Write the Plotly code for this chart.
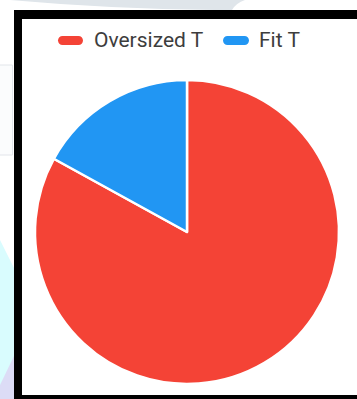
import plotly.graph_objects as go

# Share of T-shirt styles
labels = ["Oversized T", "Fit T"]
values = [83, 17]
colors = ["#F44336", "#2196F3"]

W, H = 357, 399


def X(px):
    return px / W


def Y(py):
    return 1 - py / H


def paper_path(cmds):
    """Build an SVG path in paper coordinates from pixel-space commands."""
    out = []
    for cmd, pts in cmds:
        coords = " ".join(f"{X(x):.5f},{Y(y):.5f}" for x, y in pts)
        out.append(f"{cmd}{coords}")
    return " ".join(out) + " Z"


def pill(x0, x1, yc, h):
    r = h / 2
    k = 0.5523 * r
    return paper_path([
        ("M", [(x0 + r, yc - r)]),
        ("L", [(x1 - r, yc - r)]),
        ("C", [(x1 - r + k, yc - r), (x1, yc - k), (x1, yc)]),
        ("C", [(x1, yc + k), (x1 - r + k, yc + r), (x1 - r, yc + r)]),
        ("L", [(x0 + r, yc + r)]),
        ("C", [(x0 + r - k, yc + r), (x0, yc + k), (x0, yc)]),
        ("C", [(x0, yc - k), (x0 + r - k, yc - r), (x0 + r, yc - r)]),
    ])


fig = go.Figure(
    go.Pie(
        labels=labels,
        values=values,
        marker=dict(colors=colors, line=dict(color="white", width=2.5)),
        sort=False,
        direction="clockwise",
        rotation=0,
        textinfo="none",
        showlegend=False,
        domain=dict(x=[X(35), X(339)], y=[Y(384), Y(80)]),
    )
)

shapes = []
# page backdrop around the card
shapes.append(dict(type="path", xref="paper", yref="paper", layer="below",
                   path=paper_path([("M", [(10, 0)]), ("Q", [(110, 9), (215, 10)]),
                                    ("L", [(232, 10)]), ("Q", [(236, 3), (245, 0)])]),
                   fillcolor="#dfe5ea", line=dict(width=0)))
shapes.append(dict(type="path", xref="paper", yref="paper", layer="below",
                   path=paper_path([("M", [(0, 240)]), ("L", [(14, 268)]),
                                    ("L", [(14, 399)]), ("L", [(0, 399)])]),
                   fillcolor="#d9fcfe", line=dict(width=0)))
shapes.append(dict(type="path", xref="paper", yref="paper", layer="below",
                   path=paper_path([("M", [(0, 385)]), ("L", [(14, 356)]),
                                    ("L", [(14, 399)]), ("L", [(0, 399)])]),
                   fillcolor="#dcdcf6", line=dict(width=0)))
shapes.append(dict(type="rect", xref="paper", yref="paper", layer="below",
                   x0=X(-6), x1=X(12.5), y0=Y(155), y1=Y(65),
                   fillcolor="#fbfcfd", line=dict(color="#e2e5ea", width=1)))

# black frame of the card
for x0, x1, y0, y1 in [(14, 357, 10, 19), (14, 22, 10, 399), (14, 357, 395, 399)]:
    shapes.append(dict(type="rect", xref="paper", yref="paper",
                       x0=X(x0), x1=X(x1), y0=Y(y1), y1=Y(y0),
                       fillcolor="black", line=dict(width=0)))

# legend keys
legend_keys = [(58, 83), (223, 249)]
legend_text_x = [92, 257]
for (x0, x1), c in zip(legend_keys, colors):
    shapes.append(dict(type="path", xref="paper", yref="paper",
                       path=pill(x0, x1, 40.5, 9), fillcolor=c, line=dict(width=0)))

annotations = [
    dict(text=lab, x=X(tx), y=Y(40.5), xref="paper", yref="paper",
         xanchor="left", yanchor="middle", showarrow=False,
         font=dict(family="Roboto", size=21, color="#3d3d3d"))
    for lab, tx in zip(labels, legend_text_x)
]

fig.update_layout(
    width=W,
    height=H,
    margin=dict(l=0, r=0, t=0, b=0),
    paper_bgcolor="white",
    plot_bgcolor="white",
    shapes=shapes,
    annotations=annotations,
)

fig.write_html("out.html")
